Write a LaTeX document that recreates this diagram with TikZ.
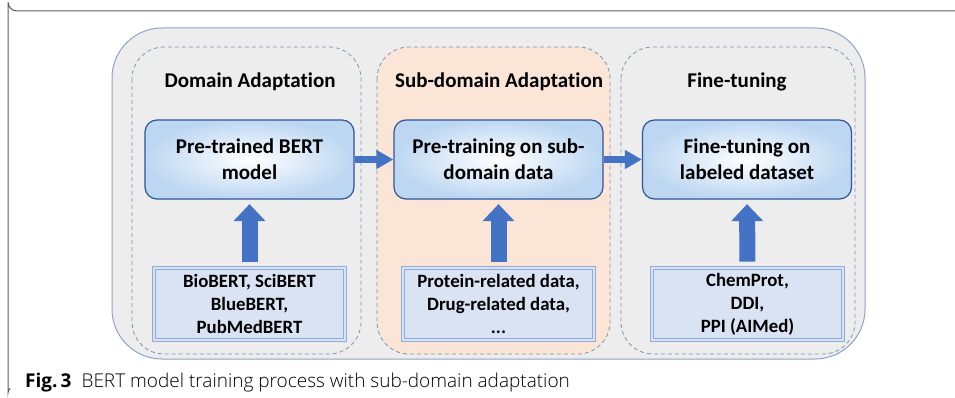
\documentclass[tikz,border=0pt]{standalone}
\usepackage{fontspec}
\setmainfont{Carlito}[Ligatures={NoCommon}]
\newfontfamily\capfont{Open Sans}
\newfontfamily\capfontlight{Open Sans Light}
\usetikzlibrary{arrows.meta}
\definecolor{framegray}{HTML}{5A5A5A}
\definecolor{bggray}{HTML}{EDEDED}
\definecolor{bgborder}{HTML}{8FA3C8}
\definecolor{dashcol}{HTML}{7F93B5}
\definecolor{subfill}{HTML}{FBE5D6}
\definecolor{boxborder}{HTML}{2F5597}
\definecolor{boxblue}{HTML}{BDD7F2}
\definecolor{arrowblue}{HTML}{4472C4}
\definecolor{datafill}{HTML}{DAE3F3}
\definecolor{databorder}{HTML}{8FAADC}
\tikzset{
  panel/.style={draw=dashcol, dash pattern=on 4pt off 3pt, line width=0.8pt, rounded corners=32pt},
  titletext/.style={font=\bfseries\fontsize{21}{24}\selectfont, text=black},
  stepbox/.style={draw=boxborder, line width=1.2pt, rounded corners=12pt, minimum width=209pt, minimum height=79pt,
     inner color=white, outer color=boxblue, align=center, font=\bfseries\fontsize{21}{26}\selectfont},
  databox/.style={draw=databorder, double=datafill, fill=datafill, double distance=1.6pt, line width=0.9pt,
     minimum width=191pt, minimum height=72pt, align=center, font=\bfseries\fontsize{18.8}{23}\selectfont},
  harrow/.style={draw=arrowblue, line width=7pt, -{Triangle[length=17pt,width=18pt]}},
  varrow/.style={draw=arrowblue, line width=16pt, -{Triangle[length=17pt,width=31pt]}},
}
\begin{document}
\begin{tikzpicture}[x=1pt,y=-1pt]
\useasboundingbox (0,0) rectangle (955,398);
% page frame
\draw[framegray, line width=1pt] (955,11) -- (17,11) arc[start angle=90,end angle=180,radius=9] -- (8,393) arc[start angle=180,end angle=230,radius=6];
% big background
\draw[bgborder, fill=bggray, line width=1pt, rounded corners=50pt] (112,28) rectangle (865,359);
% panels
\draw[panel] (132,47) rectangle (361,354);
\draw[panel, fill=subfill] (377,47) rectangle (610,354);
\draw[panel] (621,47) rectangle (855,354);
% titles
\node[titletext] (t1) at (250,82) {Domain Adaptation};
\node[titletext] (t2) at (499,82) {Sub-domain Adaptation};
\node[titletext] (t3) at (737,82) {Fine-tuning};
% step boxes
\node[stepbox] (b1) at (249.5,159.5) {Pre-trained BERT\\model};
\node[stepbox] (b2) at (498.5,159.5) {Pre-training on sub-\\domain data};
\node[stepbox] (b3) at (747,159.5) {Fine-tuning on\\labeled dataset};
% data boxes
\node[databox] (d1) at (249.5,304) {BioBERT, SciBERT\\BlueBERT,\\PubMedBERT};
\node[databox] (d2) at (498.5,304) {Protein-related data,\\Drug-related data,\\...};
\node[databox] (d3) at (747.5,304) {ChemProt,\\DDI,\\PPI (AIMed)};
% arrows
\draw[harrow] (b1.east) -- (b2.west);
\draw[harrow] (b2.east) -- (b3.west);
\draw[varrow, shorten <=6pt, shorten >=4.5pt] (d1.north) -- (b1.south);
\draw[varrow, shorten <=6pt, shorten >=4.5pt] (d2.north) -- (b2.south);
\draw[varrow, shorten <=6pt, shorten >=4.5pt] (d3.north) -- (b3.south);
% caption
\node[anchor=base west, inner sep=0pt, font=\fontsize{19}{22}\selectfont] (cap) at (25,387)
  {{\capfont\bfseries Fig.\,3}\hspace{10pt}{\capfontlight BERT model training process with sub-domain adaptation}};
\end{tikzpicture}
\end{document}
